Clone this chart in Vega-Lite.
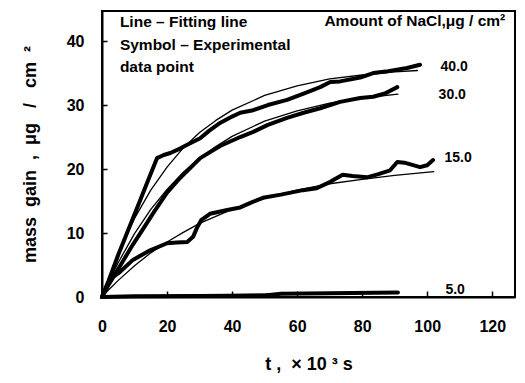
{
  "$schema": "https://vega.github.io/schema/vega-lite/v6.json",
  "width": 413,
  "height": 286,
  "autosize": "none",
  "padding": {"left": 102, "top": 11, "right": 10, "bottom": 86},
  "background": "white",
  "config": {
    "font": "Liberation Sans",
    "view": {"stroke": "black", "strokeWidth": 2},
    "axis": {"grid": false, "domainColor": "black", "domainWidth": 2, "tickColor": "black", "tickWidth": 1.5, "labelColor": "black", "titleColor": "black", "labelFontSize": 16, "labelFontWeight": "bold", "titleFontSize": 18, "titleFontWeight": "bold", "labelFont": "Liberation Sans", "titleFont": "Liberation Sans"}
  },
  "datasets": {
    "curves": [
      {"series": "40.0", "kind": "exp", "t": 0, "m": 0},
      {"series": "40.0", "kind": "exp", "t": 2, "m": 2.5},
      {"series": "40.0", "kind": "exp", "t": 5, "m": 6.6},
      {"series": "40.0", "kind": "exp", "t": 8, "m": 10.4},
      {"series": "40.0", "kind": "exp", "t": 11, "m": 14.2},
      {"series": "40.0", "kind": "exp", "t": 14, "m": 18},
      {"series": "40.0", "kind": "exp", "t": 16.9, "m": 21.7},
      {"series": "40.0", "kind": "exp", "t": 19, "m": 22.2},
      {"series": "40.0", "kind": "exp", "t": 21, "m": 22.5},
      {"series": "40.0", "kind": "exp", "t": 24, "m": 23.2},
      {"series": "40.0", "kind": "exp", "t": 26.2, "m": 23.8},
      {"series": "40.0", "kind": "exp", "t": 30.2, "m": 24.8},
      {"series": "40.0", "kind": "exp", "t": 33, "m": 26},
      {"series": "40.0", "kind": "exp", "t": 36.3, "m": 27.2},
      {"series": "40.0", "kind": "exp", "t": 40, "m": 28.2},
      {"series": "40.0", "kind": "exp", "t": 42.5, "m": 28.8},
      {"series": "40.0", "kind": "exp", "t": 46.5, "m": 29.2},
      {"series": "40.0", "kind": "exp", "t": 51, "m": 30},
      {"series": "40.0", "kind": "exp", "t": 56.9, "m": 30.8},
      {"series": "40.0", "kind": "exp", "t": 62, "m": 31.8},
      {"series": "40.0", "kind": "exp", "t": 67.1, "m": 32.8},
      {"series": "40.0", "kind": "exp", "t": 70.2, "m": 33.6},
      {"series": "40.0", "kind": "exp", "t": 73.2, "m": 33.7},
      {"series": "40.0", "kind": "exp", "t": 79.4, "m": 34.3},
      {"series": "40.0", "kind": "exp", "t": 83.4, "m": 35},
      {"series": "40.0", "kind": "exp", "t": 88, "m": 35.3},
      {"series": "40.0", "kind": "exp", "t": 93.8, "m": 35.8},
      {"series": "40.0", "kind": "exp", "t": 97.8, "m": 36.3},
      {"series": "40.0", "kind": "fit", "t": 0, "m": 0},
      {"series": "40.0", "kind": "fit", "t": 2, "m": 2.9},
      {"series": "40.0", "kind": "fit", "t": 5, "m": 6.8},
      {"series": "40.0", "kind": "fit", "t": 10, "m": 12.3},
      {"series": "40.0", "kind": "fit", "t": 15, "m": 16.7},
      {"series": "40.0", "kind": "fit", "t": 20, "m": 20.3},
      {"series": "40.0", "kind": "fit", "t": 25, "m": 23.3},
      {"series": "40.0", "kind": "fit", "t": 30, "m": 25.7},
      {"series": "40.0", "kind": "fit", "t": 35, "m": 27.6},
      {"series": "40.0", "kind": "fit", "t": 40, "m": 29.2},
      {"series": "40.0", "kind": "fit", "t": 50, "m": 31.5},
      {"series": "40.0", "kind": "fit", "t": 60, "m": 33.0},
      {"series": "40.0", "kind": "fit", "t": 70, "m": 34.1},
      {"series": "40.0", "kind": "fit", "t": 80, "m": 34.7},
      {"series": "40.0", "kind": "fit", "t": 90, "m": 35.2},
      {"series": "40.0", "kind": "fit", "t": 97, "m": 35.4},
      {"series": "30.0", "kind": "exp", "t": 0, "m": 0},
      {"series": "30.0", "kind": "exp", "t": 2, "m": 1.9},
      {"series": "30.0", "kind": "exp", "t": 5.5, "m": 4.8},
      {"series": "30.0", "kind": "exp", "t": 9.5, "m": 8.2},
      {"series": "30.0", "kind": "exp", "t": 12.6, "m": 10.6},
      {"series": "30.0", "kind": "exp", "t": 16, "m": 13.3},
      {"series": "30.0", "kind": "exp", "t": 20, "m": 16.3},
      {"series": "30.0", "kind": "exp", "t": 24, "m": 18.6},
      {"series": "30.0", "kind": "exp", "t": 30.2, "m": 21.7},
      {"series": "30.0", "kind": "exp", "t": 36.3, "m": 23.6},
      {"series": "30.0", "kind": "exp", "t": 42.5, "m": 25},
      {"series": "30.0", "kind": "exp", "t": 46.5, "m": 25.8},
      {"series": "30.0", "kind": "exp", "t": 51, "m": 26.9},
      {"series": "30.0", "kind": "exp", "t": 56.9, "m": 28},
      {"series": "30.0", "kind": "exp", "t": 62, "m": 28.8},
      {"series": "30.0", "kind": "exp", "t": 67.1, "m": 29.5},
      {"series": "30.0", "kind": "exp", "t": 73.2, "m": 30.5},
      {"series": "30.0", "kind": "exp", "t": 79.4, "m": 31.1},
      {"series": "30.0", "kind": "exp", "t": 83.4, "m": 31.3},
      {"series": "30.0", "kind": "exp", "t": 87, "m": 31.8},
      {"series": "30.0", "kind": "exp", "t": 90.8, "m": 32.8},
      {"series": "30.0", "kind": "fit", "t": 0, "m": 0},
      {"series": "30.0", "kind": "fit", "t": 2, "m": 2.3},
      {"series": "30.0", "kind": "fit", "t": 5, "m": 5.4},
      {"series": "30.0", "kind": "fit", "t": 10, "m": 9.9},
      {"series": "30.0", "kind": "fit", "t": 15, "m": 13.7},
      {"series": "30.0", "kind": "fit", "t": 20, "m": 16.8},
      {"series": "30.0", "kind": "fit", "t": 25, "m": 19.5},
      {"series": "30.0", "kind": "fit", "t": 30, "m": 21.7},
      {"series": "30.0", "kind": "fit", "t": 35, "m": 23.5},
      {"series": "30.0", "kind": "fit", "t": 40, "m": 25.1},
      {"series": "30.0", "kind": "fit", "t": 50, "m": 27.5},
      {"series": "30.0", "kind": "fit", "t": 60, "m": 29.1},
      {"series": "30.0", "kind": "fit", "t": 70, "m": 30.3},
      {"series": "30.0", "kind": "fit", "t": 80, "m": 31.1},
      {"series": "30.0", "kind": "fit", "t": 91, "m": 31.7},
      {"series": "15.0", "kind": "exp", "t": 0, "m": 0},
      {"series": "15.0", "kind": "exp", "t": 1.5, "m": 1.8},
      {"series": "15.0", "kind": "exp", "t": 3, "m": 3},
      {"series": "15.0", "kind": "exp", "t": 5.5, "m": 3.9},
      {"series": "15.0", "kind": "exp", "t": 9.5, "m": 5.8},
      {"series": "15.0", "kind": "exp", "t": 14.8, "m": 7.3},
      {"series": "15.0", "kind": "exp", "t": 20, "m": 8.4},
      {"series": "15.0", "kind": "exp", "t": 23, "m": 8.5},
      {"series": "15.0", "kind": "exp", "t": 26.2, "m": 8.6},
      {"series": "15.0", "kind": "exp", "t": 28, "m": 9.4},
      {"series": "15.0", "kind": "exp", "t": 29.2, "m": 10.8},
      {"series": "15.0", "kind": "exp", "t": 30.5, "m": 12},
      {"series": "15.0", "kind": "exp", "t": 33.2, "m": 13},
      {"series": "15.0", "kind": "exp", "t": 38.5, "m": 13.6},
      {"series": "15.0", "kind": "exp", "t": 42.5, "m": 14},
      {"series": "15.0", "kind": "exp", "t": 46, "m": 14.8},
      {"series": "15.0", "kind": "exp", "t": 49.5, "m": 15.5},
      {"series": "15.0", "kind": "exp", "t": 55, "m": 16},
      {"series": "15.0", "kind": "exp", "t": 61.8, "m": 16.7},
      {"series": "15.0", "kind": "exp", "t": 66, "m": 17},
      {"series": "15.0", "kind": "exp", "t": 70.2, "m": 18},
      {"series": "15.0", "kind": "exp", "t": 74, "m": 19.1},
      {"series": "15.0", "kind": "exp", "t": 77, "m": 18.9},
      {"series": "15.0", "kind": "exp", "t": 81.5, "m": 18.7},
      {"series": "15.0", "kind": "exp", "t": 85, "m": 19.2},
      {"series": "15.0", "kind": "exp", "t": 88.6, "m": 19.8},
      {"series": "15.0", "kind": "exp", "t": 90.8, "m": 21.1},
      {"series": "15.0", "kind": "exp", "t": 93, "m": 21},
      {"series": "15.0", "kind": "exp", "t": 97.8, "m": 20.3},
      {"series": "15.0", "kind": "exp", "t": 100, "m": 20.6},
      {"series": "15.0", "kind": "exp", "t": 101.8, "m": 21.4},
      {"series": "15.0", "kind": "fit", "t": 0, "m": 0},
      {"series": "15.0", "kind": "fit", "t": 2, "m": 1.1},
      {"series": "15.0", "kind": "fit", "t": 5, "m": 2.6},
      {"series": "15.0", "kind": "fit", "t": 10, "m": 4.9},
      {"series": "15.0", "kind": "fit", "t": 15, "m": 6.9},
      {"series": "15.0", "kind": "fit", "t": 20, "m": 8.6},
      {"series": "15.0", "kind": "fit", "t": 25, "m": 10.1},
      {"series": "15.0", "kind": "fit", "t": 30, "m": 11.5},
      {"series": "15.0", "kind": "fit", "t": 40, "m": 13.7},
      {"series": "15.0", "kind": "fit", "t": 50, "m": 15.4},
      {"series": "15.0", "kind": "fit", "t": 60, "m": 16.7},
      {"series": "15.0", "kind": "fit", "t": 70, "m": 17.7},
      {"series": "15.0", "kind": "fit", "t": 80, "m": 18.4},
      {"series": "15.0", "kind": "fit", "t": 90, "m": 19.0},
      {"series": "15.0", "kind": "fit", "t": 102, "m": 19.6},
      {"series": "5.0", "kind": "exp", "t": 0, "m": 0},
      {"series": "5.0", "kind": "exp", "t": 10, "m": 0.1},
      {"series": "5.0", "kind": "exp", "t": 30, "m": 0.15},
      {"series": "5.0", "kind": "exp", "t": 50, "m": 0.25},
      {"series": "5.0", "kind": "exp", "t": 55, "m": 0.5},
      {"series": "5.0", "kind": "exp", "t": 70, "m": 0.6},
      {"series": "5.0", "kind": "exp", "t": 91, "m": 0.7},
      {"series": "5.0", "kind": "fit", "t": 0, "m": 0},
      {"series": "5.0", "kind": "fit", "t": 20, "m": 0.2},
      {"series": "5.0", "kind": "fit", "t": 40, "m": 0.35},
      {"series": "5.0", "kind": "fit", "t": 60, "m": 0.5},
      {"series": "5.0", "kind": "fit", "t": 91, "m": 0.6}
    ],
    "legendText": [
      {"text": "Line – Fitting line", "t": 5.5, "m": 43},
      {"text": "Symbol – Experimental", "t": 5.5, "m": 39.4},
      {"text": "data point", "t": 5.5, "m": 35.9}
    ],
    "amountText": [
      {"text": "Amount of NaCl,μg / cm²", "t": 124, "m": 43.2}
    ],
    "seriesLabels": [
      {"text": "40.0", "t": 108.3, "m": 35.9},
      {"text": "30.0", "t": 107.7, "m": 31.6},
      {"text": "15.0", "t": 109.5, "m": 21.7},
      {"text": "5.0", "t": 108.6, "m": 1.1}
    ]
  },
  "layer": [
    {
      "data": {"name": "curves"},
      "mark": {"type": "line", "color": "black", "strokeCap": "round", "strokeJoin": "round"},
      "encoding": {
        "x": {"field": "t", "type": "quantitative", "scale": {"domain": [0, 127], "nice": false, "zero": false},
          "axis": {"values": [0, 10, 20, 30, 40, 50, 60, 70, 80, 90, 100, 110, 120], "labelExpr": "datum.value % 20 === 0 ? datum.label : ''", "tickSize": -6, "labelPadding": 27, "title": "t ,\u00a0\u00a0× 10\u00a0³ s", "titlePadding": 21, "labelFlush": false}},
        "y": {"field": "m", "type": "quantitative", "scale": {"domain": [0, 44.7], "nice": false, "zero": false},
          "axis": {"values": [0, 5, 10, 15, 20, 25, 30, 35, 40], "labelExpr": "datum.value % 10 === 0 ? datum.label : ''", "tickSize": -5, "labelPadding": 23, "title": "mass\u00a0\u00a0gain\u00a0\u00a0,\u00a0\u00a0μg\u00a0\u00a0\u00a0/\u00a0\u00a0\u00a0cm\u00a0\u00a0²", "titlePadding": 27}},
        "detail": [{"field": "series"}, {"field": "kind"}],
        "strokeWidth": {"field": "kind", "type": "nominal", "scale": {"domain": ["exp", "fit"], "range": [4, 1.3]}, "legend": null}
      }
    },
    {
      "data": {"name": "legendText"},
      "mark": {"type": "text", "align": "left", "baseline": "middle", "fontSize": 15.5, "fontWeight": "bold", "font": "Liberation Sans", "color": "black"},
      "encoding": {"x": {"field": "t", "type": "quantitative"}, "y": {"field": "m", "type": "quantitative"}, "text": {"field": "text"}}
    },
    {
      "data": {"name": "amountText"},
      "mark": {"type": "text", "align": "right", "baseline": "middle", "fontSize": 15.5, "fontWeight": "bold", "font": "Liberation Sans", "color": "black"},
      "encoding": {"x": {"field": "t", "type": "quantitative"}, "y": {"field": "m", "type": "quantitative"}, "text": {"field": "text"}}
    },
    {
      "data": {"name": "seriesLabels"},
      "mark": {"type": "text", "align": "center", "baseline": "middle", "fontSize": 14, "fontWeight": "bold", "font": "Liberation Sans", "color": "black"},
      "encoding": {"x": {"field": "t", "type": "quantitative"}, "y": {"field": "m", "type": "quantitative"}, "text": {"field": "text"}}
    }
  ]
}
